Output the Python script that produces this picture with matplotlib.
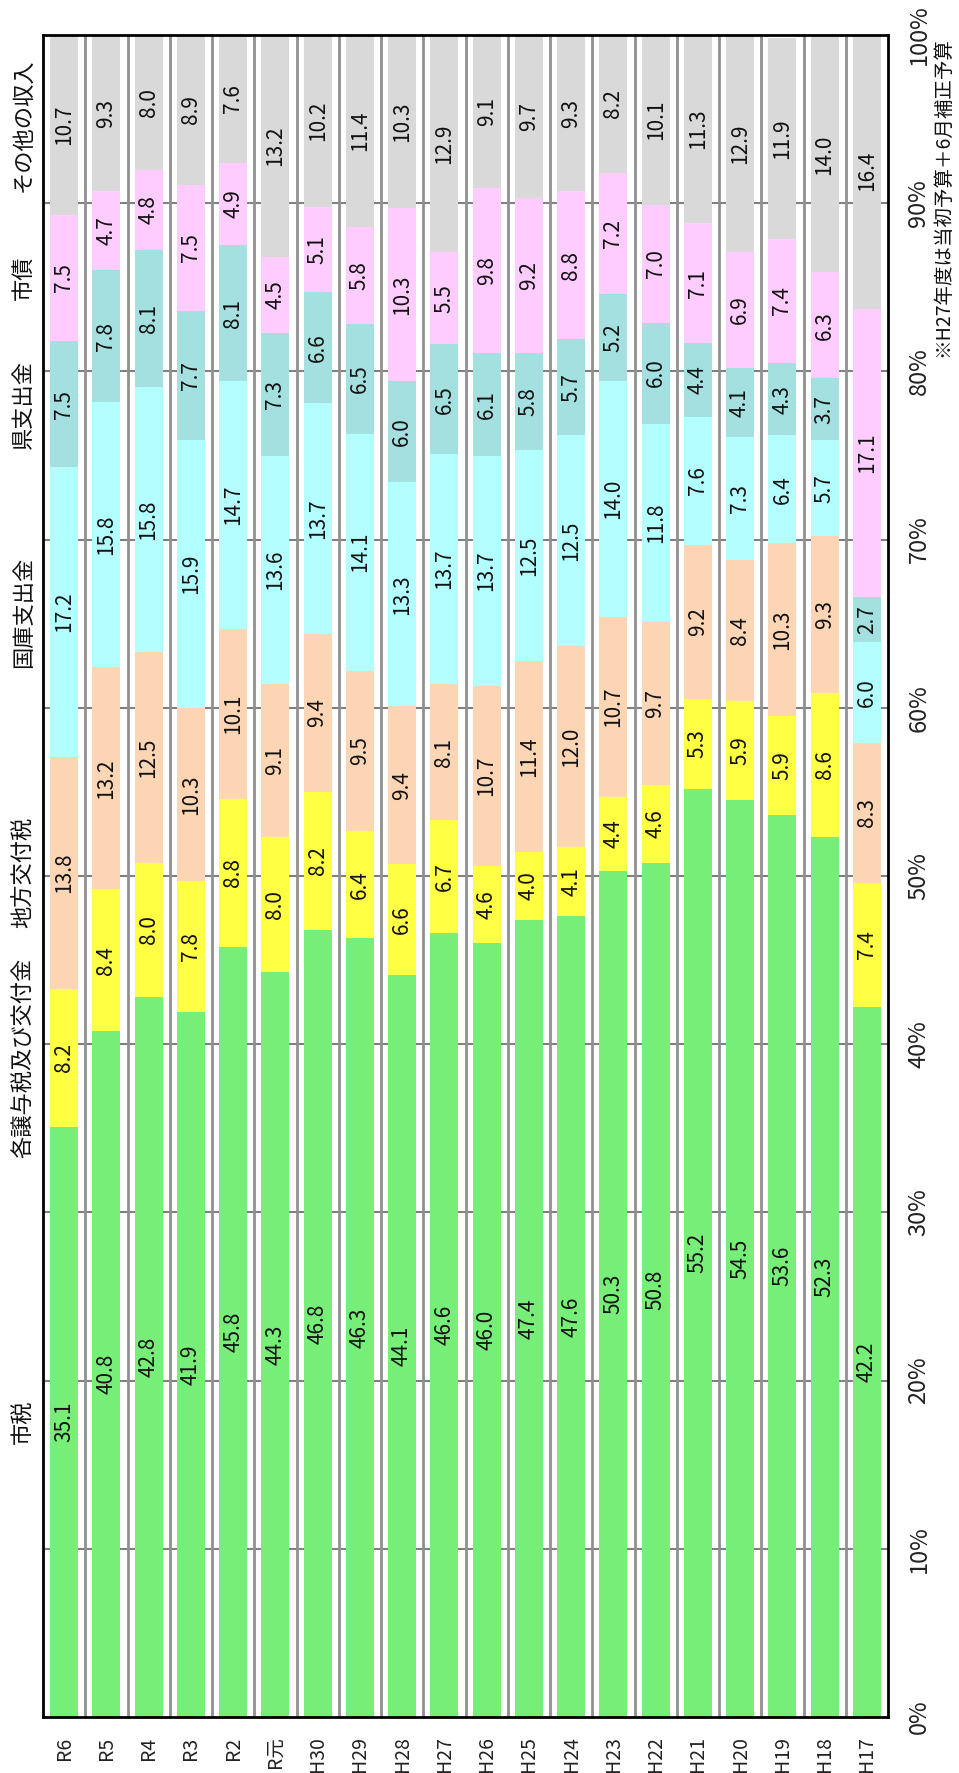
import matplotlib
matplotlib.use("Agg")
import matplotlib.pyplot as plt
import numpy as np

plt.rcParams['font.family'] = ['Noto Sans CJK JP', 'DejaVu Sans']

years = ["R6", "R5", "R4", "R3", "R2", "R元", "H30", "H29", "H28", "H27",
         "H26", "H25", "H24", "H23", "H22", "H21", "H20", "H19", "H18", "H17"]
series_names = ["市税", "各譲与税及び交付金", "地方交付税", "国庫支出金", "県支出金", "市債", "その他の収入"]

shizei   = [35.1, 40.8, 42.8, 41.9, 45.8, 44.3, 46.8, 46.3, 44.1, 46.6, 46.0, 47.4, 47.6, 50.3, 50.8, 55.2, 54.5, 53.6, 52.3, 42.2]
jouyo    = [8.2, 8.4, 8.0, 7.8, 8.8, 8.0, 8.2, 6.4, 6.6, 6.7, 4.6, 4.0, 4.1, 4.4, 4.6, 5.3, 5.9, 5.9, 8.6, 7.4]
koufu    = [13.8, 13.2, 12.5, 10.3, 10.1, 9.1, 9.4, 9.5, 9.4, 8.1, 10.7, 11.4, 12.0, 10.7, 9.7, 9.2, 8.4, 10.3, 9.3, 8.3]
kokko    = [17.2, 15.8, 15.8, 15.9, 14.7, 13.6, 13.7, 14.1, 13.3, 13.7, 13.7, 12.5, 12.5, 14.0, 11.8, 7.6, 7.3, 6.4, 5.7, 6.0]
ken      = [7.5, 7.8, 8.1, 7.7, 8.1, 7.3, 6.6, 6.5, 6.0, 6.5, 6.1, 5.8, 5.7, 5.2, 6.0, 4.4, 4.1, 4.3, 3.7, 2.7]
shisai   = [7.5, 4.7, 4.8, 7.5, 4.9, 4.5, 5.1, 5.8, 10.3, 5.5, 9.8, 9.2, 8.8, 7.2, 7.0, 7.1, 6.9, 7.4, 6.3, 17.1]
sonota   = [10.7, 9.3, 8.0, 8.9, 7.6, 13.2, 10.2, 11.4, 10.3, 12.9, 9.1, 9.7, 9.3, 8.2, 10.1, 11.3, 12.9, 11.9, 14.0, 16.4]
pct_ticks = [0, 10, 20, 30, 40, 50, 60, 70, 80, 90, 100]
note = "※H27年度は当初予算＋6月補正予算"

series = [shizei, jouyo, koufu, kokko, ken, shisai, sonota]
colors = ["#77EE77", "#FFFF44", "#FCD5B5", "#B3FFFF", "#A5E0E0", "#FFCCFF", "#D9D9D9"]

fig = plt.figure(figsize=(9.59, 17.73), dpi=100)
ax = fig.add_axes([43/959, 56/1773, (888-43)/959, (1717-35)/1773])

x = np.arange(len(years))
ax.set_xlim(-0.5, len(years) - 0.5)
ax.set_ylim(0, 100)

# gridlines and separators
for t in pct_ticks[1:-1]:
    ax.axhline(t, color="#808080", lw=1.5, zorder=0)
for b in np.arange(0.5, len(years) - 0.5, 1):
    ax.axvline(b, color="#909090", lw=2.0, zorder=0)

bottom = np.zeros(len(years))
for vals, col in zip(series, colors):
    v = np.array(vals)
    ax.bar(x, v, width=0.66, bottom=bottom, color=col, zorder=2, edgecolor='none')
    for xi, (bi, vi) in enumerate(zip(bottom, v)):
        ax.text(xi, bi + vi / 2, f"{vi:.1f}", rotation=90, ha="center", va="center",
                fontsize=15, color="#111111", zorder=3)
    bottom = bottom + v

# legend labels at R6 segment centres
cum = 0
for name, vals in zip(series_names, series):
    ax.text(-0.97, cum + vals[0] / 2, name, rotation=90, ha="center", va="center",
            fontsize=16, color="#111111", clip_on=False)
    cum += vals[0]

ax.set_xticks(x)
ax.set_xticklabels(years, rotation=90, fontsize=14, color="#222222")
ax.tick_params(axis='x', length=0, pad=14)

ax.yaxis.tick_right()
ax.set_yticks(pct_ticks)
ax.set_yticklabels([f"{t}%" for t in pct_ticks], rotation=90, fontsize=17, va="center",
                   color="#222222")
ax.tick_params(axis='y', length=0, pad=14)

for s in ax.spines.values():
    s.set_linewidth(2)
    s.set_color("black")

fig.text(943/959, 1 - 37/1773, note, rotation=90, ha="center", va="top", fontsize=14,
         color="#111111")

fig.savefig("out.png", dpi=100)
